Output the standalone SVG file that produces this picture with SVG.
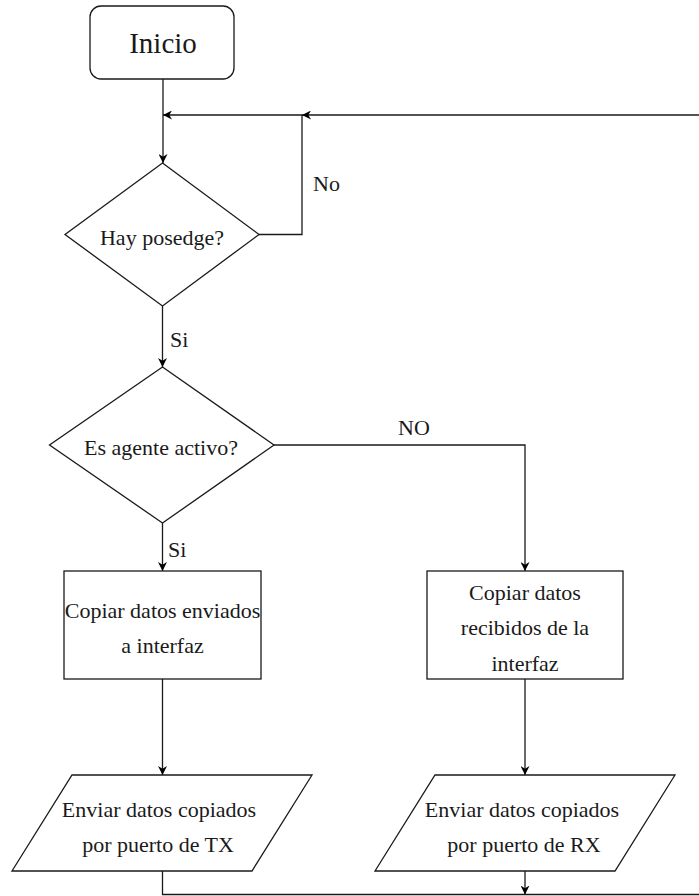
<svg xmlns="http://www.w3.org/2000/svg" width="699" height="896" viewBox="0 0 699 896" font-family="'Liberation Serif', 'DejaVu Serif', 'Times New Roman', serif">
  <style>
    .shape { fill: #ffffff; stroke: #1a1a1a; stroke-width: 1.3; }
    .edge { fill: none; stroke: #1a1a1a; stroke-width: 1.3; }
    text { font-family: 'Liberation Serif', 'DejaVu Serif', 'Times New Roman', serif; font-size: 22px; fill: #1a1a1a; }
    .txt { text-anchor: middle; }
  </style>
  <defs>
    <marker id="arrow" viewBox="0 0 10 10" refX="10" refY="5" markerWidth="9" markerHeight="9" markerUnits="userSpaceOnUse" orient="auto">
      <path d="M0,0 L10,5 L0,10 L3,5 z" fill="#000000"/>
    </marker>
  </defs>

  <rect width="699" height="896" fill="#ffffff"/>

  <!-- connectors -->
  <g id="connectors">
    <path class="edge" d="M163,79 L163,163" marker-end="url(#arrow)"/>
    <path class="edge" d="M259,234.5 L302,234.5 L302,115 L163,115" marker-end="url(#arrow)"/>
    <path class="edge" d="M699,115 L302,115" marker-end="url(#arrow)"/>
    <path class="edge" d="M162.5,306 L162.5,367" marker-end="url(#arrow)"/>
    <path class="edge" d="M162.5,523 L162.5,571" marker-end="url(#arrow)"/>
    <path class="edge" d="M274,445 L525,445 L525,571" marker-end="url(#arrow)"/>
    <path class="edge" d="M162.5,679 L162.5,775" marker-end="url(#arrow)"/>
    <path class="edge" d="M525,679 L525,775" marker-end="url(#arrow)"/>
    <path class="edge" d="M162.5,871 L162.5,894.5 L699,894.5"/>
    <path class="edge" d="M525,871 L525,894.5" marker-end="url(#arrow)"/>
    <text x="313" y="191">No</text>
    <text x="170" y="347">Si</text>
    <text x="168" y="557">Si</text>
    <text class="txt" x="414" y="435">NO</text>
  </g>

  <g id="inicio">
    <rect class="shape" x="90" y="6" width="144" height="73" rx="11" ry="11"/>
    <text class="txt" x="163" y="53" style="font-size:29px">Inicio</text>
  </g>

  <g id="hay-posedge">
    <polygon class="shape" points="162.5,163 259,234.5 162.5,306 65,234.5"/>
    <text class="txt" x="162" y="245">Hay posedge?</text>
  </g>

  <g id="agente-activo">
    <polygon class="shape" points="162.5,367 274,445 162.5,523 49.5,445"/>
    <text class="txt" x="161" y="455">Es agente activo?</text>
  </g>

  <g id="copiar-enviados">
    <rect class="shape" x="64" y="571" width="197" height="108"/>
    <text class="txt" x="162.5" y="618">Copiar datos enviados</text>
    <text class="txt" x="162.5" y="653">a interfaz</text>
  </g>

  <g id="copiar-recibidos">
    <rect class="shape" x="427" y="571" width="196" height="108"/>
    <text class="txt" x="525" y="600">Copiar datos</text>
    <text class="txt" x="525" y="635">recibidos de la</text>
    <text class="txt" x="525" y="671">interfaz</text>
  </g>

  <g id="enviar-tx">
    <polygon class="shape" points="72,775 312,775 252,871 12,871"/>
    <text class="txt" x="159" y="817">Enviar datos copiados</text>
    <text class="txt" x="158" y="852">por puerto de TX</text>
  </g>

  <g id="enviar-rx">
    <polygon class="shape" points="435,775 675,775 615,871 375,871"/>
    <text class="txt" x="522" y="817">Enviar datos copiados</text>
    <text class="txt" x="524" y="852">por puerto de RX</text>
  </g>
</svg>
